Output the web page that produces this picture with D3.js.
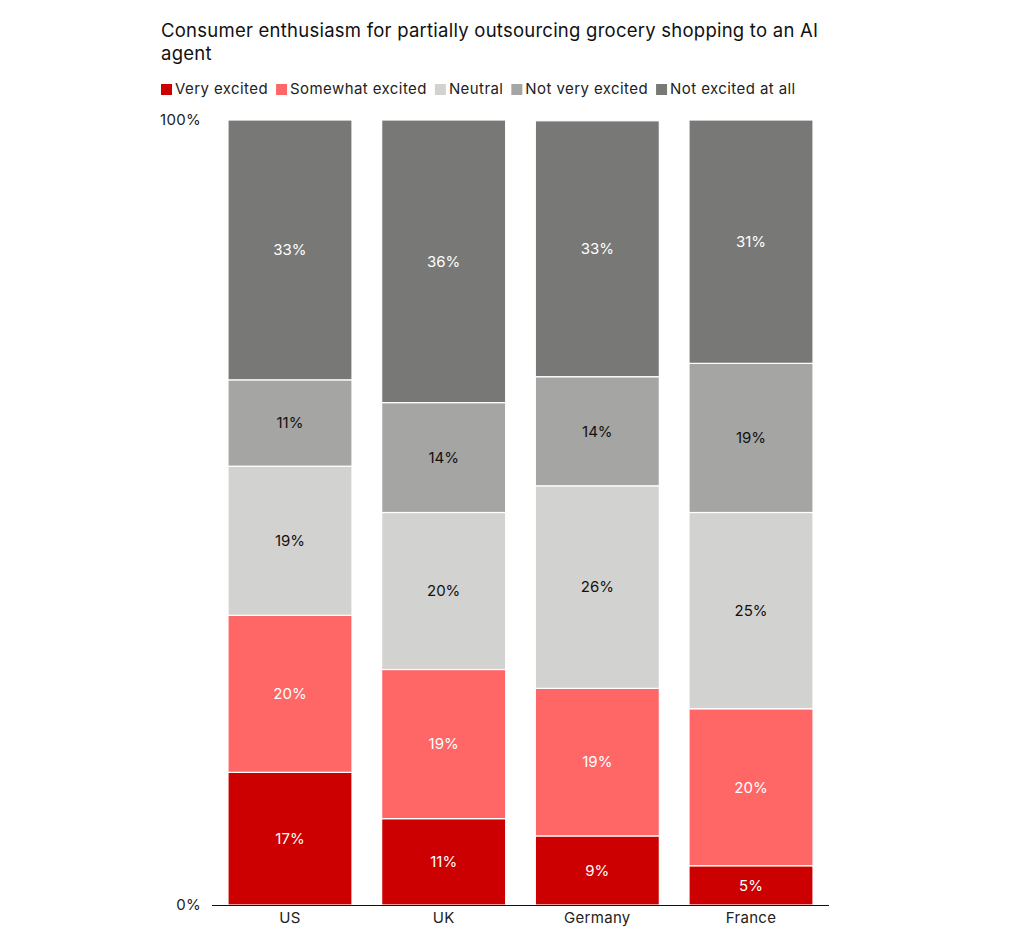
<!DOCTYPE html>
<html>
<head>
<meta charset="utf-8">
<script src="https://cdn.jsdelivr.net/npm/d3@7"></script>
<style>
  body { margin: 0; background: #fff; }
  svg text { font-family: Inter, Roboto, "Noto Sans", sans-serif; }
</style>
</head>
<body>
<svg id="chart" width="1028" height="939"></svg>
<script>
const countries = ['US', 'UK', 'Germany', 'France'];
const seriesNames = ['Very excited', 'Somewhat excited', 'Neutral', 'Not very excited', 'Not excited at all'];
const veryExcited = [16.9, 11.0, 8.8, 5.0];
const somewhatExcited = [20.0, 19.0, 18.8, 20.0];
const neutral = [19.0, 20.0, 25.8, 25.0];
const notVeryExcited = [11.0, 14.0, 13.9, 19.0];
const notExcitedAtAll = [33.1, 36.0, 32.6, 31.0];
const yTicks = [0, 100];

const colors = ['#cc0000', '#ff6666', '#d2d2d0', '#a5a5a3', '#787876'];
const labelColors = ['#fff', '#fff', '#111', '#111', '#fff'];

const seriesValues = [veryExcited, somewhatExcited, neutral, notVeryExcited, notExcitedAtAll];
const rows = countries.map((c, i) => {
  const row = { country: c };
  seriesNames.forEach((s, j) => { row[s] = seriesValues[j][i]; });
  return row;
});

const svg = d3.select('#chart');

// title
svg.append('text')
  .attr('x', 161)
  .attr('y', 37)
  .attr('font-size', 18.5)
  .attr('letter-spacing', 0.24)
  .attr('fill', '#111')
  .selectAll('tspan')
  .data(['Consumer enthusiasm for partially outsourcing grocery shopping to an AI', 'agent'])
  .join('tspan')
  .attr('x', 161)
  .attr('dy', (d, i) => i ? 23 : 0)
  .text(d => d);

// legend
const $legend = svg.append('g').attr('transform', 'translate(161,89)');
let lx = 0;
seriesNames.forEach((name, i) => {
  const g = $legend.append('g').attr('transform', `translate(${lx},0)`);
  g.append('rect')
    .attr('x', 0).attr('y', -5)
    .attr('width', 11).attr('height', 11)
    .attr('fill', colors[i]);
  const t = g.append('text')
    .attr('x', 14).attr('y', 0)
    .attr('dy', '0.35em')
    .attr('font-size', 15)
    .attr('letter-spacing', 0.42)
    .attr('fill', '#222')
    .text(name);
  lx += 14 + t.node().getComputedTextLength() + 8;
});

const y = d3.scaleLinear().domain([0, 100]).range([905, 120]);
const x = d3.scaleBand()
  .domain(countries)
  .range([212, 829])
  .paddingInner(0.193)
  .paddingOuter(0.104);

const stack = d3.stack().keys(seriesNames)(rows);

const $layers = svg.append('g')
  .selectAll('g.layer')
  .data(stack)
  .join('g')
  .attr('class', 'layer')
  .attr('fill', (d, i) => colors[i]);

$layers.selectAll('rect')
  .data(d => d)
  .join('rect')
  .attr('x', d => x(d.data.country))
  .attr('y', d => y(d[1]))
  .attr('width', x.bandwidth())
  .attr('height', d => y(d[0]) - y(d[1]))
  .attr('stroke', '#fff')
  .attr('stroke-width', 1.2);

$layers.each(function(layer, i) {
  d3.select(this).selectAll('text')
    .data(layer)
    .join('text')
    .attr('x', d => x(d.data.country) + x.bandwidth() / 2)
    .attr('y', d => y((d[0] + d[1]) / 2))
    .attr('dy', '0.35em')
    .attr('text-anchor', 'middle')
    .attr('font-size', 15)
    .attr('fill', labelColors[i])
    .text(d => Math.round(d[1] - d[0]) + '%');
});

// y ticks
svg.append('g')
  .selectAll('text')
  .data(yTicks)
  .join('text')
  .attr('x', 201)
  .attr('y', d => y(d))
  .attr('dy', '0.35em')
  .attr('text-anchor', 'end')
  .attr('font-size', 15)
  .attr('letter-spacing', 0.3)
  .attr('fill', '#222')
  .text(d => d + '%');

// x axis
svg.append('line')
  .attr('x1', 212).attr('x2', 829)
  .attr('y1', y(0) + 0.5).attr('y2', y(0) + 0.5)
  .attr('stroke', '#111')
  .attr('stroke-width', 1);

svg.append('g')
  .selectAll('text')
  .data(countries)
  .join('text')
  .attr('x', d => x(d) + x.bandwidth() / 2)
  .attr('y', 918)
  .attr('dy', '0.35em')
  .attr('text-anchor', 'middle')
  .attr('font-size', 15)
  .attr('letter-spacing', 0.3)
  .attr('fill', '#222')
  .text(d => d);
</script>
</body>
</html>
